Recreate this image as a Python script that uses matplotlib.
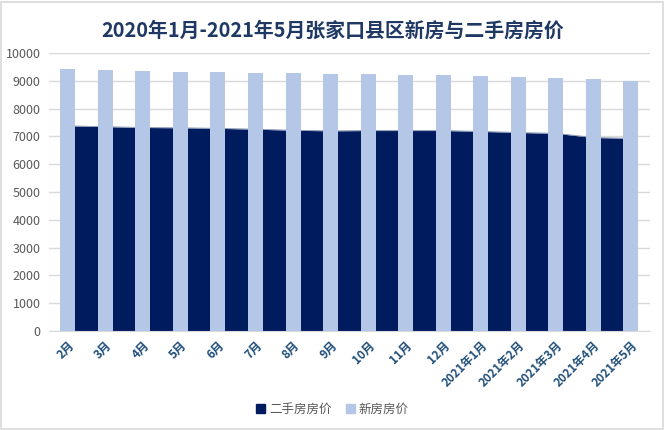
import matplotlib.pyplot as plt
from matplotlib.patches import Patch, Rectangle

plt.rcParams['font.family'] = ['Noto Sans CJK SC', 'DejaVu Sans']

# 月份
months = ['2月', '3月', '4月', '5月', '6月', '7月', '8月', '9月', '10月', '11月', '12月',
          '2021年1月', '2021年2月', '2021年3月', '2021年4月', '2021年5月']
# 二手房房价 (面积)
second_hand = [7380, 7350, 7320, 7310, 7290, 7260, 7220, 7200, 7210, 7210, 7210,
               7180, 7140, 7110, 6960, 6930]
# 新房房价 (柱)
new_house = [9440, 9400, 9370, 9330, 9300, 9290, 9270, 9230, 9230, 9220, 9220,
             9190, 9120, 9110, 9080, 9000]

dark = '#001B5E'
light = '#B4C7E7'

fig = plt.figure(figsize=(6.65, 4.30), dpi=100)
ax = fig.add_axes([0.0737, 0.2302, 0.9033, 0.6465])

x = list(range(len(months)))
ax.fill_between(x, second_hand, color=dark, linewidth=0, zorder=2)
ax.plot(x, second_hand, color='#8090B0', linewidth=0.6, zorder=2)
ax.bar(x, new_house, width=0.4, color=light, zorder=3)

ax.set_xlim(-0.5, len(months) - 0.5)
ax.set_ylim(0, 10000)
ax.set_yticks(range(0, 10001, 1000))
ax.yaxis.grid(True, color='#D9D9D9', linewidth=1)
ax.set_axisbelow(True)
for s in ['top', 'right', 'left']:
    ax.spines[s].set_visible(False)
ax.spines['bottom'].set_color('#D9D9D9')
ax.tick_params(axis='both', length=0)
ax.tick_params(axis='y', labelsize=9, labelcolor='#595959', pad=6)
ax.set_xticks(x)
ax.set_xticklabels(months, rotation=45, ha='right', rotation_mode='anchor',
                   fontsize=8.5, fontweight='bold', color='#1F4E79')
ax.tick_params(axis='x', pad=6)

fig.suptitle('2020年1月-2021年5月张家口县区新房与二手房房价', y=0.955,
             fontsize=14.3, fontweight='bold', color='#1F3864')

handles = [Patch(color=dark), Patch(color=light)]
fig.legend(handles, ['二手房房价', '新房房价'], loc='center', bbox_to_anchor=(0.5, 0.048),
           ncol=2, frameon=False, fontsize=9, handlelength=0.7, handleheight=0.7,
           handletextpad=0.3, columnspacing=1.2, labelcolor='#595959')

fig.patches.append(Rectangle((0.002, 0.003), 0.995, 0.993, transform=fig.transFigure,
                             fill=False, edgecolor='#D9D9D9', linewidth=1.2))

fig.savefig('out.png', dpi=100)
